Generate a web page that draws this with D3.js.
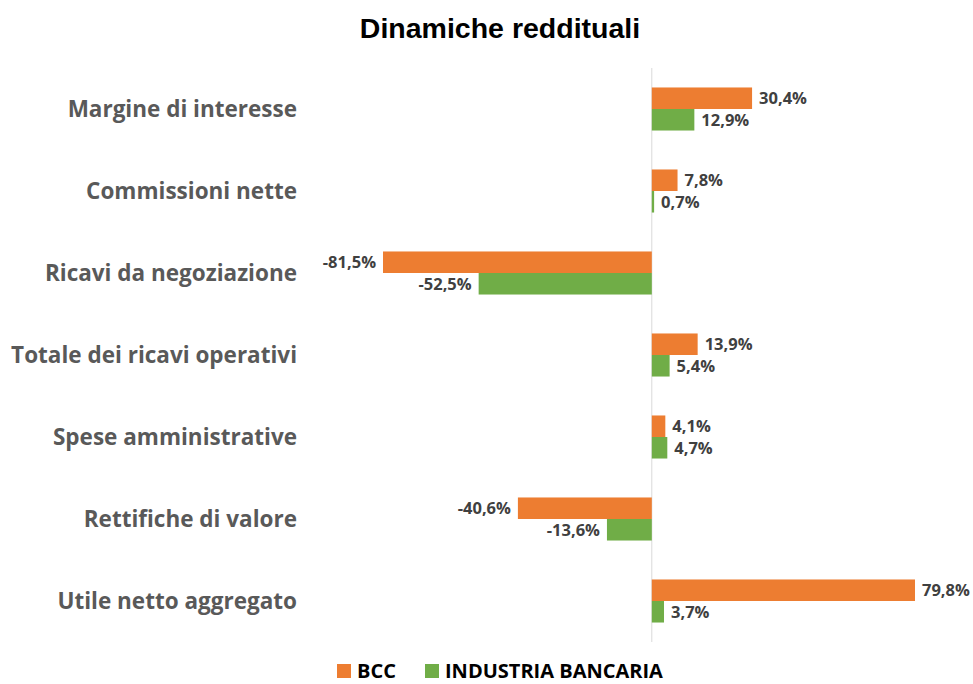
<!DOCTYPE html>
<html>
<head>
<meta charset="utf-8">
<script src="https://cdn.jsdelivr.net/npm/d3@7"></script>
<style>
  body { margin: 0; background: #fff; }
</style>
</head>
<body>
<div id="container"></div>
<script>
// dati
let categories = [
  'Margine di interesse',
  'Commissioni nette',
  'Ricavi da negoziazione',
  'Totale dei ricavi operativi',
  'Spese amministrative',
  'Rettifiche di valore',
  'Utile netto aggregato'
];
let bcc = [30.4, 7.8, -81.5, 13.9, 4.1, -40.6, 79.8];
let industria = [12.9, 0.7, -52.5, 5.4, 4.7, -13.6, 3.7];
let seriesNames = ['BCC', 'INDUSTRIA BANCARIA'];
let colors = ['#ED7D31', '#70AD47'];

let width = 973;
let height = 684;
let font = '"Open Sans", "Noto Sans", sans-serif';

let svg = d3.create('svg').attr('width', width).attr('height', height);

let x = d3.scaleLinear().domain([-81.5, 79.8]).range([383, 915]);
let y = d3.scaleBand().domain(categories).range([68, 642]).paddingInner(0.475).paddingOuter(0.2375);
let sub = d3.scaleBand().domain([0, 1]).range([0, y.bandwidth()]);

// formato italiano con trattino semplice
let fmt = v => (v < 0 ? '-' : '') + Math.abs(v).toFixed(1).replace('.', ',') + '%';

// titolo
svg.append('text')
  .attr('x', 500).attr('y', 38)
  .attr('text-anchor', 'middle')
  .attr('font-family', 'Arial, "Liberation Sans", sans-serif')
  .attr('font-weight', 'bold')
  .attr('font-size', '28.5px')
  .attr('fill', '#000')
  .text('Dinamiche reddituali');

// asse verticale
svg.append('line')
  .attr('x1', x(0)).attr('x2', x(0))
  .attr('y1', 68).attr('y2', 642)
  .attr('stroke', '#d9d9d9')
  .attr('stroke-width', 1);

let series = [bcc, industria];

series.forEach((vals, s) => {
  let g = svg.append('g');
  g.selectAll('rect')
    .data(vals)
    .enter()
    .append('rect')
    .attr('x', d => Math.min(x(0), x(d)))
    .attr('y', (d, i) => y(categories[i]) + sub(s))
    .attr('width', d => Math.abs(x(d) - x(0)))
    .attr('height', sub.bandwidth())
    .attr('fill', colors[s]);

  g.selectAll('text')
    .data(vals)
    .enter()
    .append('text')
    .attr('x', d => d >= 0 ? x(d) + 7 : x(d) - 7)
    .attr('y', (d, i) => y(categories[i]) + sub(s) + sub.bandwidth() / 2 + 6)
    .attr('text-anchor', d => d >= 0 ? 'start' : 'end')
    .attr('font-family', font)
    .attr('font-weight', 'bold')
    .attr('font-size', '16.5px')
    .attr('fill', '#404040')
    .text(d => fmt(d));
});

// etichette categorie
svg.append('g')
  .selectAll('text')
  .data(categories)
  .enter()
  .append('text')
  .attr('x', 297)
  .attr('y', d => y(d) + y.bandwidth() / 2 + 8)
  .attr('text-anchor', 'end')
  .attr('font-family', font)
  .attr('font-weight', 'bold')
  .attr('font-size', '22.5px')
  .attr('fill', '#595959')
  .text(d => d);

// legenda
let legend = [
  { name: seriesNames[0], color: colors[0], x: 337 },
  { name: seriesNames[1], color: colors[1], x: 425 }
];
let lg = svg.append('g');
lg.selectAll('rect')
  .data(legend)
  .enter()
  .append('rect')
  .attr('x', d => d.x)
  .attr('y', 664)
  .attr('width', 14)
  .attr('height', 14)
  .attr('fill', d => d.color);
lg.selectAll('text')
  .data(legend)
  .enter()
  .append('text')
  .attr('x', d => d.x + 20)
  .attr('y', 678)
  .attr('font-family', font)
  .attr('font-weight', 'bold')
  .attr('font-size', '20px')
  .attr('fill', '#000')
  .text(d => d.name);

d3.select('#container').append(() => svg.node());
</script>
</body>
</html>
